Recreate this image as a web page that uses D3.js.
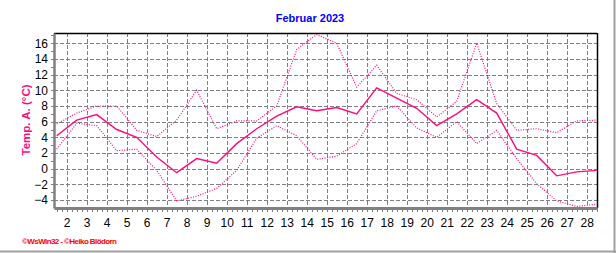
<!DOCTYPE html>
<html>
<head>
<meta charset="utf-8">
<script src="https://cdn.jsdelivr.net/npm/d3@7"></script>
<style>
  body { margin: 0; background: #fff; }
  svg { display: block; }
</style>
</head>
<body>
<div id="chart"></div>
<script>
// daily values, Februar 2023
let days = [1,2,3,4,5,6,7,8,9,10,11,12,13,14,15,16,17,18,19,20,21,22,23,24,25,26,27,28];
let tMax  = [5.7,7.1,8.0,8.0,4.9,4.1,6.2,10.0,5.1,6.1,6.1,8.0,15.2,17.1,16.0,10.4,13.2,9.6,8.8,6.6,8.6,16.0,8.3,4.9,5.1,4.6,6.1,6.2];
let tMean = [4.2,6.2,6.9,5.0,4.0,1.5,-0.5,1.3,0.7,3.2,5.1,6.7,7.9,7.4,7.8,7.0,10.3,9.0,7.7,5.5,7.0,8.8,7.1,2.5,1.7,-0.9,-0.4,-0.2];
let tMin  = [2.5,5.8,5.5,2.3,2.5,-0.2,-4.1,-3.5,-2.5,-0.2,3.9,5.5,4.2,1.2,1.6,3.2,7.4,8.0,5.2,4.0,6.0,3.2,4.9,1.3,-1.9,-4.1,-4.8,-4.5];
let dayTicks = [2,3,4,5,6,7,8,9,10,11,12,13,14,15,16,17,18,19,20,21,22,23,24,25,26,27,28];
let tempTicks = [-4,-2,0,2,4,6,8,10,12,14,16];

let W = 616, H = 253;
let pLeft = 54, pRight = 597, pTop = 33, pBottom = 208;
let pink = "#ff0a80";

let svg = d3.select("#chart").append("svg")
    .attr("width", W)
    .attr("height", H);

let x = d3.scaleLinear().domain([1.365, 28.515]).range([pLeft, pRight]);
let y = d3.scaleLinear().domain([-5.0, 17.3]).range([pBottom, pTop]);

// grid
svg.append("g").selectAll("line").data(tempTicks).enter()
  .append("line")
    .attr("x1", pLeft).attr("x2", pRight)
    .attr("y1", d => Math.round(y(d)) + 0.5)
    .attr("y2", d => Math.round(y(d)) + 0.5)
    .attr("stroke", "#808080")
    .attr("stroke-dasharray", "4,2");
svg.append("g").selectAll("line").data(dayTicks).enter()
  .append("line")
    .attr("x1", d => Math.round(x(d)) + 0.5)
    .attr("x2", d => Math.round(x(d)) + 0.5)
    .attr("y1", pTop).attr("y2", pBottom)
    .attr("stroke", "#808080")
    .attr("stroke-dasharray", "4,2");

// frame: black top + right, gray axes left + bottom
svg.append("line").attr("x1", pLeft).attr("x2", pRight).attr("y1", pTop + 0.5).attr("y2", pTop + 0.5)
  .attr("stroke", "#000").attr("stroke-width", 1.5);
svg.append("line").attr("x1", pRight + 0.5).attr("x2", pRight + 0.5).attr("y1", pTop).attr("y2", pBottom)
  .attr("stroke", "#000").attr("stroke-width", 1.5);

// y axis
let yAxis = d3.axisLeft(y).tickValues(tempTicks).tickSize(0).tickPadding(6);
let gy = svg.append("g").attr("transform", "translate(" + pLeft + ",0)").call(yAxis);
gy.select(".domain").attr("stroke", "#808080").attr("stroke-width", 2.5);
gy.selectAll("text").attr("font-family", "Liberation Sans, Arial, sans-serif")
  .attr("font-size", 12).attr("fill", "#000");
// small ticks on the y axis every degree
svg.append("g").selectAll("line").data(d3.range(-4, 18)).enter()
  .append("line")
    .attr("x1", pLeft - 3).attr("x2", pLeft)
    .attr("y1", d => Math.round(y(d)) + 0.5)
    .attr("y2", d => Math.round(y(d)) + 0.5)
    .attr("stroke", "#808080");

// x axis
let xAxis = d3.axisBottom(x).tickValues(dayTicks).tickSize(0).tickPadding(10).tickFormat(d3.format("d"));
let gx = svg.append("g").attr("transform", "translate(0," + pBottom + ")").call(xAxis);
gx.select(".domain").attr("stroke", "#808080").attr("stroke-width", 3);
gx.selectAll("text").attr("font-family", "Liberation Sans, Arial, sans-serif")
  .attr("font-size", 12).attr("fill", "#000");
// quarter-day ticks below the x axis
svg.append("g").selectAll("line").data(d3.range(1.5, 28.51, 0.25)).enter()
  .append("line")
    .attr("x1", d => Math.round(x(d)) + 0.5)
    .attr("x2", d => Math.round(x(d)) + 0.5)
    .attr("y1", pBottom).attr("y2", pBottom + 4)
    .attr("stroke", "#808080");

// series
let line = d3.line()
  .x((d, i) => x(days[i] + 0.5))
  .y(d => y(d));

svg.append("path").datum(tMax)
  .attr("d", line).attr("fill", "none")
  .attr("stroke", pink).attr("stroke-width", 1.2)
  .attr("stroke-dasharray", "1,1.5");
svg.append("path").datum(tMin)
  .attr("d", line).attr("fill", "none")
  .attr("stroke", pink).attr("stroke-width", 1.2)
  .attr("stroke-dasharray", "1,1.5");
svg.append("path").datum(tMean)
  .attr("d", line).attr("fill", "none")
  .attr("stroke", pink).attr("stroke-width", 1.4);

// title
svg.append("text")
  .attr("x", 310).attr("y", 22)
  .attr("text-anchor", "middle")
  .attr("font-family", "Liberation Sans, Arial, sans-serif")
  .attr("font-weight", "bold").attr("font-size", 11)
  .attr("fill", "#0000ff")
  .text("Februar 2023");

// y title
svg.append("text")
  .attr("transform", "translate(30,120) rotate(-90)")
  .attr("text-anchor", "middle")
  .attr("font-family", "Liberation Sans, Arial, sans-serif")
  .attr("font-weight", "bold").attr("font-size", 11.5)
  .attr("fill", pink)
  .text("Temp. A. (°C)");

// footer
svg.append("text")
  .attr("x", 22).attr("y", 244)
  .attr("font-family", "Liberation Sans, Arial, sans-serif")
  .attr("font-weight", "bold").attr("font-size", 8)
  .attr("fill", "#ff0000")
  .attr("textLength", 95)
  .text("©WsWin32 - ©Heiko Blödorn");

// outer gray edge right + bottom
svg.append("line").attr("x1", W - 1.5).attr("x2", W - 1.5).attr("y1", 0).attr("y2", H)
  .attr("stroke", "#a0a0a0").attr("stroke-width", 2);
svg.append("line").attr("x1", 0).attr("x2", W).attr("y1", H - 1.5).attr("y2", H - 1.5)
  .attr("stroke", "#a0a0a0").attr("stroke-width", 2);
</script>
</body>
</html>
